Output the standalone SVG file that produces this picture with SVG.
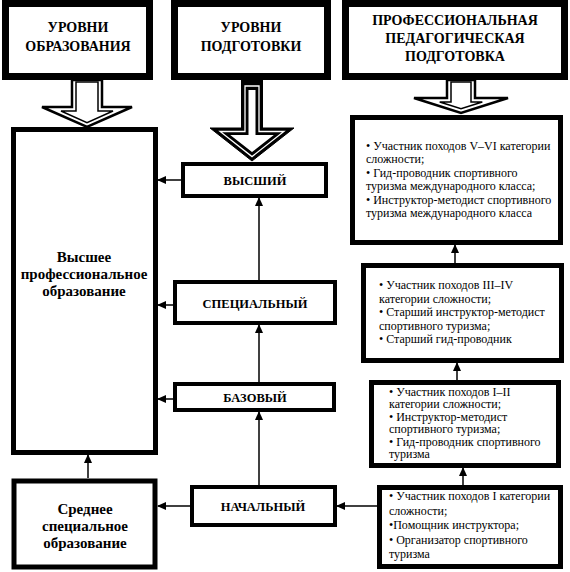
<svg xmlns="http://www.w3.org/2000/svg" width="570" height="572" viewBox="0 0 570 572">
<style>
.hdr{fill:#fff;stroke:#000;stroke-width:7}
.box{fill:#fff;stroke:#000;stroke-width:5}
.mid{fill:#fff;stroke:#000;stroke-width:4}
.ht{font-family:"Liberation Serif","Times New Roman",serif;font-weight:bold;font-size:14px;text-anchor:middle;fill:#000}
.bt{font-family:"Liberation Serif","Times New Roman",serif;font-weight:bold;font-size:15px;text-anchor:middle;fill:#000}
.mt{font-family:"Liberation Serif","Times New Roman",serif;font-weight:bold;font-size:12.5px;text-anchor:middle;fill:#000}
.rt{font-family:"Liberation Serif","Times New Roman",serif;font-size:12px;fill:#000}
.ln{stroke:#000;stroke-width:1.5;fill:none;marker-end:url(#ah)}
.ba{fill:#fff;stroke:#000;stroke-width:2.5;stroke-linejoin:miter}
.bi{fill:#fff;stroke:#000;stroke-width:1.5}
</style>
<defs>
<marker id="ah" markerWidth="9" markerHeight="8" refX="8" refY="4" orient="auto" markerUnits="userSpaceOnUse">
<path d="M0,0 L9,4 L0,8 Z" fill="#000"/>
</marker>
</defs>

<g id="header1">
<rect class="hdr" x="5.5" y="3.5" width="144" height="73"/>
<text class="ht" x="78" y="32">УРОВНИ</text>
<text class="ht" x="78" y="51">ОБРАЗОВАНИЯ</text>
</g>
<g id="header2">
<rect class="hdr" x="174.5" y="3.5" width="153" height="73"/>
<text class="ht" x="251" y="32">УРОВНИ</text>
<text class="ht" x="251" y="51">ПОДГОТОВКИ</text>
</g>
<g id="header3">
<rect class="hdr" x="345.5" y="3.5" width="219" height="73"/>
<text class="ht" x="455" y="25">ПРОФЕССИОНАЛЬНАЯ</text>
<text class="ht" x="455" y="43">ПЕДАГОГИЧЕСКАЯ</text>
<text class="ht" x="455" y="61">ПОДГОТОВКА</text>
</g>

<g id="blockarrow1">
<polygon class="ba" points="72,80 102,80 102,107 132,107 87,127 42,107 72,107"/>
<polygon class="bi" points="76,82 98,82 98,111 113,111 87,122.6 61,111 76,111"/>
</g>
<g id="blockarrow2">
<polygon fill="#000" stroke="#000" stroke-width="1" points="241.5,80 262.5,80 262.5,128 294,128 252,161 210,128 241.5,128"/>
<polygon fill="none" stroke="#fff" stroke-width="1.3" points="245,86 259,86 259,131.5 283.9,131.5 252,156.6 220.1,131.5 245,131.5 Z"/>
<polygon fill="#fff" points="248.5,90 255.5,90 255.5,135 273.8,135 252,152.1 230.2,135 248.5,135"/>
</g>
<g id="blockarrow3">
<polygon class="ba" points="447,80 475,80 475,98 508,98 461,113 414,98 447,98"/>
<polygon class="bi" points="451,82 471,82 471,102 482.3,102 461,108.8 439.7,102 451,102"/>
</g>

<g id="higher-ed">
<rect class="box" x="13.5" y="129.5" width="142" height="323"/>
<text class="bt" x="84" y="262">Высшее</text>
<text class="bt" x="84" y="279">профессиональное</text>
<text class="bt" x="84" y="296">образование</text>
</g>
<g id="secondary-ed">
<rect class="box" x="14" y="481" width="141" height="86" stroke-width="6"/>
<text class="bt" x="85" y="514">Среднее</text>
<text class="bt" x="85" y="531">специальное</text>
<text class="bt" x="85" y="548">образование</text>
</g>

<g id="vysshiy">
<rect class="mid" x="183" y="164" width="143" height="32"/>
<text class="mt" x="255" y="184.5">ВЫСШИЙ</text>
</g>
<g id="specialny">
<rect class="mid" x="175" y="282" width="160" height="41"/>
<text class="mt" x="255" y="307.5">СПЕЦИАЛЬНЫЙ</text>
</g>
<g id="bazovy">
<rect class="mid" x="175" y="384" width="159" height="26"/>
<text class="mt" x="255" y="401.5">БАЗОВЫЙ</text>
</g>
<g id="nachalny">
<rect class="mid" x="192" y="487" width="143" height="38"/>
<text class="mt" x="263" y="510.5">НАЧАЛЬНЫЙ</text>
</g>

<g id="boxA">
<rect class="box" x="352.5" y="117.5" width="208" height="125"/>
<text class="rt" x="366" y="150">• Участник походов V–VI категории</text>
<text class="rt" x="366" y="163.4">сложности;</text>
<text class="rt" x="366" y="176.8">• Гид-проводник спортивного</text>
<text class="rt" x="366" y="190.2">туризма международного класса;</text>
<text class="rt" x="366" y="203.6">• Инструктор-методист спортивного</text>
<text class="rt" x="366" y="217">туризма международного класса</text>
</g>
<g id="boxB">
<rect class="box" x="363.5" y="265.5" width="198" height="95"/>
<text class="rt" x="379" y="289">• Участник походов III–IV</text>
<text class="rt" x="379" y="302.5">категории сложности;</text>
<text class="rt" x="379" y="316">• Старший инструктор-методист</text>
<text class="rt" x="379" y="329.5">спортивного туризма;</text>
<text class="rt" x="379" y="343">• Старший гид-проводник</text>
</g>
<g id="boxC">
<rect class="box" x="371.5" y="382.5" width="187" height="83"/>
<text class="rt" x="389" y="395.5">• Участник походов I–II</text>
<text class="rt" x="389" y="408">категории сложности;</text>
<text class="rt" x="389" y="420.5">• Инструктор-методист</text>
<text class="rt" x="389" y="433">спортивного туризма;</text>
<text class="rt" x="389" y="445.5">• Гид-проводник спортивного</text>
<text class="rt" x="389" y="458">туризма</text>
</g>
<g id="boxD">
<rect class="box" x="379.5" y="487.5" width="181" height="79"/>
<text class="rt" x="389" y="500">• Участник походов I категории</text>
<text class="rt" x="389" y="514.5">сложности;</text>
<text class="rt" x="389" y="529">•Помощник инструктора;</text>
<text class="rt" x="389" y="543.5">• Организатор спортивного</text>
<text class="rt" x="389" y="558">туризма</text>
</g>

<g id="connectors">
<line class="ln" x1="181" y1="180" x2="158" y2="180"/>
<line class="ln" x1="173" y1="305" x2="158" y2="305"/>
<line class="ln" x1="173" y1="399" x2="158" y2="399"/>
<line class="ln" x1="190" y1="506" x2="158" y2="506"/>
<line class="ln" x1="88" y1="478" x2="88" y2="455"/>
<line class="ln" x1="259" y1="280" x2="259" y2="198"/>
<line class="ln" x1="259" y1="382" x2="259" y2="325"/>
<line class="ln" x1="259" y1="485" x2="259" y2="412"/>
<line class="ln" x1="455" y1="263" x2="455" y2="245"/>
<line class="ln" x1="457" y1="380" x2="457" y2="363"/>
<line class="ln" x1="463" y1="485" x2="463" y2="468"/>
<line class="ln" x1="377" y1="506" x2="337" y2="506"/>
</g>
</svg>
